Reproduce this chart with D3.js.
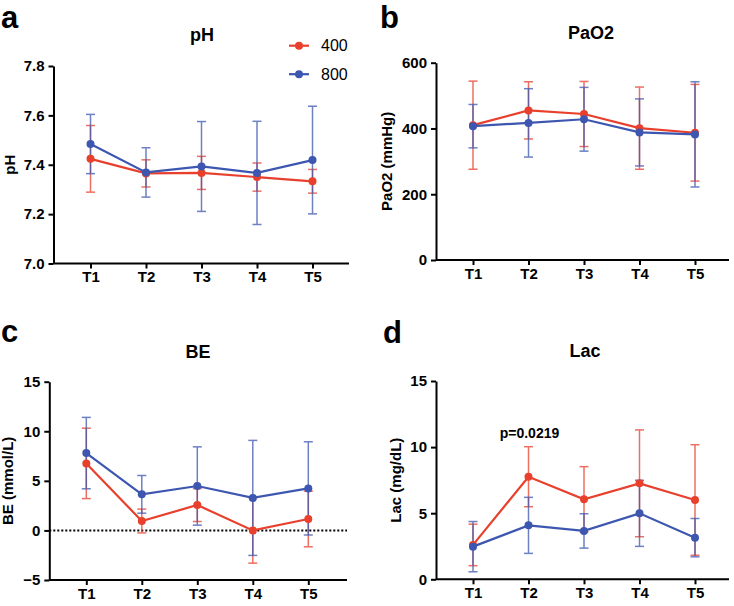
<!DOCTYPE html>
<html lang="en">
<head>
    <meta charset="UTF-8">
    <title>Blood gas panels</title>
    <script src="https://d3js.org/d3.v7.min.js"></script>
    <style>
        body { margin: 0; background: #fff; }
        text { font-family: "Liberation Sans", Arial, sans-serif; }
    </style>
</head>
<body>
<script>
    // time points
    const times = ["T1", "T2", "T3", "T4", "T5"];
    const groups = ["400", "800"];

    // pH (mean, sd)
    const ph400 = [7.424, 7.365, 7.367, 7.350, 7.333];
    const ph400Sd = [0.135, 0.055, 0.067, 0.057, 0.048];
    const ph800 = [7.484, 7.369, 7.393, 7.367, 7.419];
    const ph800Sd = [0.120, 0.100, 0.182, 0.209, 0.218];

    // PaO2
    const pao2400 = [410, 455, 444, 401, 387];
    const pao2400Sd = [134, 87, 99, 125, 147];
    const pao2800 = [407, 417, 428, 388, 382];
    const pao2800Sd = [66, 104, 97, 102, 160];

    // BE
    const be400 = [6.76, 0.95, 2.56, 0.0, 1.15];
    const be400Sd = [3.55, 1.2, 1.66, 3.3, 2.8];
    const be800 = [7.8, 3.64, 4.48, 3.28, 4.24];
    const be800Sd = [3.6, 1.9, 3.95, 5.8, 4.7];

    // Lac
    const lac400 = [2.6, 7.76, 6.05, 7.26, 6.0];
    const lac400Sd = [1.57, 2.27, 2.47, 4.04, 4.18];
    const lac800 = [2.47, 4.08, 3.66, 4.99, 3.15];
    const lac800Sd = [1.9, 2.12, 1.3, 2.5, 1.45];

    const red = "#E8402D", blue = "#3D56B0";

    const svg = d3.select("body")
        .append("svg")
        .attr("width", 734)
        .attr("height", 606);

    function drawPanel(p) {
        const g = svg.append("g");

        const y = d3.scaleLinear().domain(p.domain).range([p.bottom, p.top]);
        const x = d3.scalePoint().domain(times).range([p.left + 37, p.left + 259]);

        // y axis
        const yAxis = g.append("g")
            .attr("transform", `translate(${p.left},0)`)
            .call(d3.axisLeft(y).tickValues(p.ticks).tickFormat(p.fmt).tickSize(5).tickSizeOuter(0).tickPadding(4));
        // x axis
        const xAxis = g.append("g")
            .attr("transform", `translate(0,${p.bottom})`)
            .call(d3.axisBottom(x).tickSize(5).tickSizeOuter(0).tickPadding(3));
        xAxis.select(".domain").remove();
        xAxis.append("line")
            .attr("x1", p.left).attr("x2", p.right)
            .attr("stroke", "#000").attr("stroke-width", 2);

        [yAxis, xAxis].forEach(a => {
            a.attr("font-size", 15);
            a.selectAll(".domain").attr("stroke-width", 2);
            a.selectAll(".tick line").attr("stroke-width", 2);
            a.selectAll("text")
                .attr("fill", "#000")
                .attr("font-size", 15)
                .attr("font-weight", "bold")
                .style("font-family", "'Liberation Sans', Arial, sans-serif");
        });

        // reference line at zero
        if (p.zeroLine) {
            g.append("line")
                .attr("x1", p.left).attr("x2", p.right)
                .attr("y1", y(0)).attr("y2", y(0))
                .attr("stroke", "#000")
                .attr("stroke-width", 2)
                .attr("stroke-dasharray", "2,2");
        }

        const series = [
            { mean: p.s400, sd: p.s400Sd, color: red },
            { mean: p.s800, sd: p.s800Sd, color: blue }
        ];

        // error bars first
        series.forEach(s => {
            const eb = g.append("g").attr("opacity", 0.75);
            times.forEach((t, i) => {
                const cx = x(t), hi = y(s.mean[i] + s.sd[i]), lo = y(s.mean[i] - s.sd[i]);
                eb.append("line").attr("x1", cx).attr("x2", cx).attr("y1", hi).attr("y2", lo)
                    .attr("stroke", s.color).attr("stroke-width", 1.5);
                [hi, lo].forEach(v => {
                    eb.append("line").attr("x1", cx - 4.5).attr("x2", cx + 4.5).attr("y1", v).attr("y2", v)
                        .attr("stroke", s.color).attr("stroke-width", 1.5);
                });
            });
        });

        // lines and points
        series.forEach(s => {
            const line = d3.line().x((d, i) => x(times[i])).y(d => y(d));
            g.append("path")
                .datum(s.mean)
                .attr("d", line)
                .attr("fill", "none")
                .attr("stroke", s.color)
                .attr("stroke-width", 2.2);
            g.selectAll(null)
                .data(s.mean)
                .enter()
                .append("circle")
                .attr("cx", (d, i) => x(times[i]))
                .attr("cy", d => y(d))
                .attr("r", 4)
                .attr("fill", s.color);
        });

        // title
        g.append("text")
            .attr("x", p.titleX).attr("y", p.titleY)
            .attr("text-anchor", "middle")
            .attr("font-size", 18).attr("font-weight", "bold")
            .text(p.title);

        // y label
        g.append("text")
            .attr("transform", `translate(${p.labelX},${(p.top + p.bottom) / 2}) rotate(-90)`)
            .attr("text-anchor", "middle")
            .attr("font-size", 15).attr("font-weight", "bold")
            .text(p.ylabel);

        // panel letter
        g.append("text")
            .attr("x", p.letterX).attr("y", p.letterY)
            .attr("font-size", 31).attr("font-weight", "bold")
            .text(p.letter);

        return { g, x, y };
    }

    const pa = drawPanel({
        left: 53.5, right: 349, top: 66, bottom: 263.5,
        domain: [7.0, 7.8], ticks: [7.0, 7.2, 7.4, 7.6, 7.8], fmt: d3.format(".1f"),
        s400: ph400, s400Sd: ph400Sd, s800: ph800, s800Sd: ph800Sd,
        title: "pH", titleX: 202, titleY: 41, ylabel: "pH", labelX: 15,
        letter: "a", letterX: 1, letterY: 28
    });

    // legend
    groups.forEach((name, i) => {
        const ly = 45.7 + i * 28.5;
        const c = i === 0 ? red : blue;
        pa.g.append("line").attr("x1", 289).attr("x2", 309).attr("y1", ly).attr("y2", ly)
            .attr("stroke", c).attr("stroke-width", 2.2);
        pa.g.append("circle").attr("cx", 299).attr("cy", ly).attr("r", 4).attr("fill", c);
        pa.g.append("text").attr("x", 321).attr("y", ly + 5.5)
            .attr("font-size", 16)
            .text(name);
    });

    drawPanel({
        left: 436, right: 729, top: 62.7, bottom: 260,
        domain: [0, 600], ticks: [0, 200, 400, 600], fmt: d3.format("d"),
        s400: pao2400, s400Sd: pao2400Sd, s800: pao2800, s800Sd: pao2800Sd,
        title: "PaO2", titleX: 591, titleY: 39, ylabel: "PaO2 (mmHg)", labelX: 392,
        letter: "b", letterX: 380, letterY: 28
    });

    drawPanel({
        left: 49.3, right: 347, top: 381.7, bottom: 580,
        domain: [-5, 15], ticks: [-5, 0, 5, 10, 15], fmt: d3.format("d"),
        s400: be400, s400Sd: be400Sd, s800: be800, s800Sd: be800Sd,
        title: "BE", titleX: 198, titleY: 358, ylabel: "BE (mmol/L)", labelX: 13,
        letter: "c", letterX: 1, letterY: 342, zeroLine: true
    });

    const pd = drawPanel({
        left: 436, right: 729, top: 381, bottom: 579.3,
        domain: [0, 15], ticks: [0, 5, 10, 15], fmt: d3.format("d"),
        s400: lac400, s400Sd: lac400Sd, s800: lac800, s800Sd: lac800Sd,
        title: "Lac", titleX: 585, titleY: 357, ylabel: "Lac (mg/dL)", labelX: 401,
        letter: "d", letterX: 383, letterY: 343
    });

    // significance annotation
    pd.g.append("text")
        .attr("x", pd.x("T2") + 1).attr("y", 438)
        .attr("text-anchor", "middle")
        .attr("font-size", 14).attr("font-weight", "bold")
        .text("p=0.0219");
</script>
</body>
</html>
